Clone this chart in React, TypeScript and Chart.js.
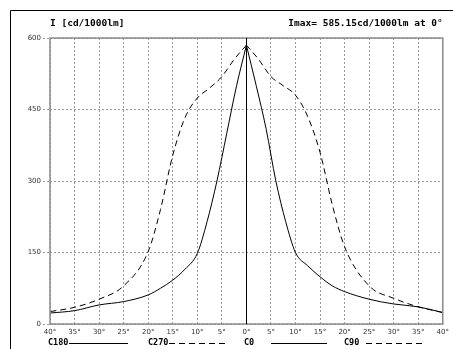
import React, { useEffect, useRef } from "react";
import { Chart, registerables } from "chart.js";

Chart.register(...registerables);

// Angles (degrees, magnitude from nadir) for each half-plane
const solidAngles = [0, 2, 4, 6, 8, 10, 12.5, 15, 17.5, 20, 25, 30, 35, 40];
const dashedAngles = [0, 2.5, 5, 7.5, 10, 12.5, 15, 17.5, 20, 25, 30, 35, 40];

// Intensity values, cd/1000lm
const c180 = [585, 500, 400, 300, 215, 148, 115, 92, 75, 61, 47, 40, 28, 23]; // left, solid
const c0 = [585, 500, 410, 300, 215, 150, 122, 99, 80, 68, 52, 42, 36, 24]; // right, solid
const c270 = [585, 555, 519, 495, 474, 433, 354, 240, 152, 80, 52, 35, 26]; // left, dashed
const c90 = [585, 555, 519, 500, 480, 435, 360, 250, 162, 80, 54, 36, 24]; // right, dashed

const xTicks = [-40, -35, -30, -25, -20, -15, -10, -5, 0, 5, 10, 15, 20, 25, 30, 35, 40];
const yTicks = [0, 150, 300, 450, 600];

const yTitle = "I [cd/1000lm]";
const maxTitle = "Imax= 585.15cd/1000lm at 0°";
const legendNames = ["C180", "C270", "C0", "C90"];

const toPts = (angles: number[], vals: number[], sign: number) =>
  angles.map((a, i) => ({ x: sign * a, y: vals[i] }));

const decor = {
  id: "decor",
  beforeDraw(chart: any) {
    const ctx = chart.ctx;
    ctx.save();
    ctx.fillStyle = "#fff";
    ctx.fillRect(0, 0, chart.width, chart.height);
    ctx.strokeStyle = "#000";
    ctx.lineWidth = 1;
    ctx.beginPath();
    ctx.moveTo(10.5, chart.height);
    ctx.lineTo(10.5, 10.5);
    ctx.lineTo(chart.width, 10.5);
    ctx.stroke();
    ctx.restore();
  },
  afterDraw(chart: any) {
    const ctx = chart.ctx;
    const a = chart.chartArea;
    const xs = chart.scales.x;
    ctx.save();
    // plot frame
    ctx.strokeStyle = "#8a8a8a";
    ctx.lineWidth = 1.5;
    ctx.strokeRect(a.left, a.top, a.right - a.left, a.bottom - a.top);
    // centre line
    const cx = Math.round(xs.getPixelForValue(0)) + 0.5;
    ctx.strokeStyle = "#000";
    ctx.lineWidth = 1;
    ctx.beginPath();
    ctx.moveTo(cx, a.top);
    ctx.lineTo(cx, a.bottom);
    ctx.stroke();
    // titles
    ctx.fillStyle = "#000";
    ctx.font = 'bold 9.5px "DejaVu Sans Mono"';
    ctx.textBaseline = "middle";
    ctx.textAlign = "left";
    ctx.fillText(yTitle, a.left, 24);
    ctx.textAlign = "right";
    ctx.fillText(maxTitle, a.right, 24);
    // legend
    const ly = 343;
    ctx.textAlign = "left";
    ctx.font = 'bold 8.5px "DejaVu Sans Mono"';
    const items = [
      { t: legendNames[0], tx: 48, l0: 69, l1: 128, dash: [] as number[] },
      { t: legendNames[1], tx: 148, l0: 169, l1: 228, dash: [6, 4] },
      { t: legendNames[2], tx: 244, l0: 271, l1: 327, dash: [] as number[] },
      { t: legendNames[3], tx: 344, l0: 366, l1: 422, dash: [6, 4] },
    ];
    for (const it of items) {
      ctx.fillText(it.t, it.tx, ly);
      ctx.setLineDash(it.dash);
      ctx.beginPath();
      ctx.moveTo(it.l0, ly + 0.5);
      ctx.lineTo(it.l1, ly + 0.5);
      ctx.stroke();
    }
    ctx.setLineDash([]);
    ctx.restore();
  },
};

export default function App() {
  const ref = useRef<HTMLCanvasElement>(null);
  useEffect(() => {
    if (!ref.current) return;
    const line = (label: string, data: any[], dash: number[]) => ({
      label,
      data,
      borderColor: "#000",
      borderWidth: 1,
      borderDash: dash,
      pointRadius: 0,
      fill: false,
      cubicInterpolationMode: "monotone" as const,
    });
    const chart = new Chart(ref.current, {
      type: "line",
      data: {
        datasets: [
          line("C180", toPts(solidAngles, c180, -1), []),
          line("C0", toPts(solidAngles, c0, 1), []),
          line("C270", toPts(dashedAngles, c270, -1), [6, 4]),
          line("C90", toPts(dashedAngles, c90, 1), [6, 4]),
        ],
      },
      options: {
        animation: false,
        responsive: false,
        events: [],
        layout: { padding: { left: 0, top: 38, right: 9, bottom: 0 } },
        plugins: { legend: { display: false }, tooltip: { enabled: false } },
        scales: {
          x: {
            type: "linear",
            min: -40,
            max: 40,
            afterBuildTicks: (s: any) => {
              s.ticks = xTicks.map((v) => ({ value: v }));
            },
            afterFit: (s: any) => {
              s.height = 25;
            },
            ticks: {
              autoSkip: false,
              maxRotation: 0,
              padding: 4,
              color: "#333",
              font: { family: "DejaVu Sans", size: 7 },
              callback: (v: any) => Math.abs(Number(v)) + "°",
            },
            grid: { color: "#9a9a9a", drawTicks: false, lineWidth: 1 },
            border: { display: false, dash: [2, 2] },
          },
          y: {
            type: "linear",
            min: 0,
            max: 600,
            afterBuildTicks: (s: any) => {
              s.ticks = yTicks.map((v) => ({ value: v }));
            },
            afterFit: (s: any) => {
              s.width = 50;
            },
            ticks: {
              padding: 2,
              color: "#333",
              font: { family: "DejaVu Sans", size: 7 },
            },
            grid: {
              color: "#9a9a9a",
              tickLength: 7,
              tickColor: "#9a9a9a",
              tickBorderDash: [2, 2],
              lineWidth: 1,
            },
            border: { display: false, dash: [2, 2] },
          },
        },
      },
      plugins: [decor],
    });
    return () => chart.destroy();
  }, []);
  return (
    <div style={{ position: "absolute", left: 0, top: 0, width: 453, height: 349, background: "#fff" }}>
      <canvas ref={ref} width={453} height={349} style={{ display: "block" }} />
    </div>
  );
}
